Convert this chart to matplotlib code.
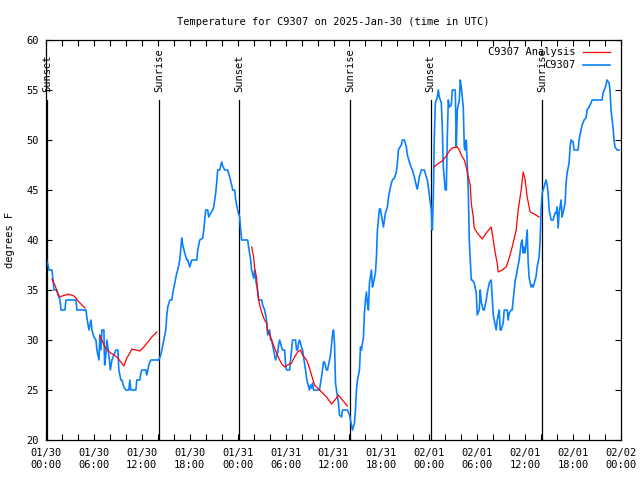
import datetime as dt
import matplotlib
matplotlib.use('Agg')
import matplotlib.pyplot as plt
import matplotlib.dates as mdates
import numpy as np

# hours since 2025-01-30 00:00 UTC
obs_hours = [0.06, 0.25, 0.375, 0.5, 0.75, 0.875, 1.0, 1.375, 1.5, 1.75, 1.875, 2.0, 2.375, 2.5,
             3.75, 3.875, 5.0, 5.125, 5.375, 5.625, 5.75, 6.0, 6.25, 6.375, 6.625, 6.75, 6.875,
             7.0, 7.25, 7.34, 7.5, 7.625, 7.875, 8.06, 8.25, 8.5, 8.75, 9.0, 9.125, 9.375, 9.5,
             9.75, 10.0, 10.375, 10.5, 10.625, 11.25, 11.375, 11.75, 11.875, 12.0, 12.5, 12.625,
             12.875, 13.125, 14.125, 14.375, 14.5, 14.75, 15.0, 15.125, 15.25, 15.5, 15.75,
             15.875, 16.125, 16.375, 16.5, 16.75, 17.0, 17.125, 17.375, 17.625, 17.75, 18.0,
             18.25, 18.875, 19.0, 19.25, 19.625, 19.75, 20.0, 20.25, 20.375, 20.625, 20.875,
             21.0, 21.25, 21.375, 21.5, 21.75, 22.0, 22.125, 22.375, 22.75, 23.0, 23.25, 23.375,
             23.625, 23.75, 24.0, 24.25, 24.375, 24.5, 25.25, 25.375, 25.625, 25.75, 26.0,
             26.125, 26.25, 26.5, 26.625, 27.0, 27.125, 27.375, 27.625, 27.75, 28.0, 28.125,
             28.25, 28.5, 28.625, 28.75, 29.0, 29.125, 29.25, 29.5, 29.625, 29.875, 30.0,
             30.125, 30.5, 30.75, 30.875, 31.25, 31.375, 31.5, 31.625, 31.75, 32.0, 32.125,
             32.25, 32.5, 32.625, 32.75, 33.0, 33.125, 33.25, 33.375, 33.5, 34.25, 34.375,
             34.5, 34.75, 34.875, 35.125, 35.25, 35.5, 35.625, 35.75, 35.875, 36.0, 36.125,
             36.25, 36.5, 36.625, 36.75, 37.0, 37.125, 37.75, 38.0, 38.25, 38.375, 38.625,
             38.75, 38.875, 39.0, 39.25, 39.375, 39.5, 39.75, 39.875, 40.0, 40.125, 40.25,
             40.375, 40.5, 40.75, 40.875, 41.0, 41.25, 41.375, 41.5, 41.75, 41.875, 42.0,
             42.25, 42.375, 42.5, 42.75, 42.875, 43.0, 43.25, 43.375, 43.625, 43.875, 44.0,
             44.125, 44.25, 44.5, 44.625, 44.875, 45.125, 45.25, 45.5, 45.75, 45.875, 46.125,
             46.375, 46.5, 46.75, 47.0, 47.375, 47.625, 47.75, 47.875, 48.0, 48.25, 48.375,
             48.5, 48.56, 48.625, 48.75, 49.0, 49.125, 49.25, 49.5, 49.625, 49.75, 50.0,
             50.125, 50.25, 50.375, 50.5, 50.75, 50.875, 51.25, 51.375, 51.5, 51.75, 51.875,
             52.0, 52.25, 52.375, 52.5, 52.625, 52.75, 52.875, 53.0, 53.25, 53.375, 53.625,
             53.875, 54.0, 54.25, 54.375, 54.5, 54.75, 54.875, 55.125, 55.25, 55.5, 55.75,
             55.875, 56.0, 56.25, 56.375, 56.5, 56.75, 56.875, 57.0, 57.25, 57.375, 57.75,
             57.875, 58.0, 58.25, 58.375, 58.5, 58.75, 58.875, 59.0, 59.25, 59.5, 59.625,
             59.75, 59.875, 60.0, 60.25, 60.375, 60.5, 60.75, 60.875, 61.0, 61.25, 61.375,
             61.5, 61.75, 61.875, 62.0, 62.125, 62.25, 62.5, 62.625, 62.75, 62.875, 63.0,
             63.25, 63.5, 63.75, 63.875, 64.0, 64.125, 64.25, 64.5, 64.625, 64.75, 65.0,
             65.125, 65.25, 65.5, 65.625, 65.75, 66.0, 66.125, 66.625, 66.75, 67.0, 67.125,
             67.375, 67.625, 67.75, 68.0, 68.25, 68.375, 69.625, 69.75, 70.0, 70.125, 70.25,
             70.5, 70.625, 70.75, 71.0, 71.125, 71.25, 71.5, 71.75]
obs_temp = [38.0, 37.5, 37.0, 37.0, 37.0, 36.0, 35.0, 35.0, 34.5, 34.0, 33.0, 33.0, 33.0, 34.0,
            34.0, 33.0, 33.0, 32.2, 31.0, 32.0, 31.0, 30.3, 30.0, 29.0, 28.0, 30.5, 29.0,
            31.0, 31.0, 27.5, 28.5, 30.0, 28.5, 27.0, 28.0, 28.5, 29.0, 29.0, 27.0, 26.0, 26.0,
            25.3, 25.0, 25.0, 26.0, 25.0, 25.0, 26.0, 26.0, 26.7, 27.0, 27.0, 26.5,
            27.5, 28.0, 28.0, 28.5, 29.0, 30.0, 31.0, 32.5, 33.3, 34.0, 34.0,
            34.7, 35.7, 36.7, 37.0, 38.0, 40.2, 39.5, 38.7, 38.0, 38.0, 37.3,
            38.0, 38.0, 39.0, 40.0, 40.2, 41.0, 43.0, 43.0, 42.3, 42.7, 43.0,
            43.3, 44.7, 45.7, 47.0, 47.0, 47.8, 47.4, 47.0, 47.0, 46.3, 45.5, 45.0,
            45.0, 44.0, 43.0, 42.3, 41.0, 40.0, 40.0, 39.3, 38.0, 37.0, 36.2,
            37.0, 36.0, 35.0, 34.0, 34.0, 33.5, 33.0, 32.0, 30.5, 31.0, 30.0,
            30.0, 29.0, 28.5, 28.0, 28.7, 29.5, 30.0, 29.3, 29.0, 29.0, 27.5,
            27.0, 27.0, 29.0, 30.0, 30.0, 29.0, 29.0, 29.7, 30.0, 29.3, 29.0,
            28.3, 27.0, 26.2, 25.7, 25.0, 25.5, 25.2, 25.7, 25.0, 25.0, 25.7,
            26.3, 27.8, 27.8, 27.0, 27.0, 28.0, 28.5, 29.5, 30.5, 31.0, 29.7,
            25.7, 24.3, 23.7, 22.5, 22.3, 23.0, 23.0, 22.5, 21.5, 21.0, 21.7,
            23.0, 25.0, 26.0, 27.0, 29.3, 29.0, 30.3, 32.7, 34.0, 34.8, 33.6,
            33.0, 35.7, 37.0, 35.3, 35.7, 36.7, 38.3, 41.0, 43.1, 43.1, 42.5,
            41.3, 42.0, 42.7, 43.3, 44.2, 44.8, 45.7, 46.0, 46.2, 46.8, 47.7,
            49.0, 49.2, 49.5, 50.0, 50.0, 49.3, 48.5, 47.8, 47.2, 47.0, 46.3,
            45.4, 45.1, 46.3, 47.0, 47.0, 46.3, 46.0, 45.3, 44.5, 43.0, 41.0,
            44.3, 47.3, 50.3, 53.7, 54.3, 55.0, 54.3, 53.7, 51.2, 47.3, 45.0,
            45.0, 50.3, 54.0, 53.3, 53.5, 55.0, 55.0, 49.3, 53.0, 54.0, 56.0,
            55.3, 53.3, 49.3, 49.0, 50.0, 47.5, 45.0, 40.0, 36.0, 36.0, 35.7,
            34.7, 32.5, 33.0, 35.0, 33.8, 33.0, 33.0, 34.0, 34.7, 35.7,
            36.0, 34.3, 32.5, 31.5, 31.0, 32.0, 33.0, 31.0, 31.0, 31.7, 33.0, 33.0,
            32.0, 32.7, 33.0, 33.0, 34.0, 36.0, 36.3, 37.0, 38.0, 39.7, 40.0,
            38.7, 39.3, 38.7, 41.0, 37.8, 36.2, 35.3, 35.5, 35.3, 36.0, 36.4,
            37.3, 38.3, 40.0, 43.0, 44.7, 45.0, 45.7, 46.0, 45.5, 44.7, 43.0,
            42.0, 42.0, 42.7, 42.7, 43.3, 41.2, 42.7, 44.0, 42.3, 42.7, 43.7,
            45.7, 46.7, 47.7, 49.3, 50.0, 49.8, 49.0, 49.0, 50.0, 51.0, 51.5,
            52.0, 52.2, 53.0, 53.3, 53.7, 54.0, 54.0, 54.7, 55.2, 55.5, 56.0,
            55.7, 55.0, 53.0, 51.3, 50.0, 49.3, 49.0, 49.0]

# analysis series, nan marks the gaps
ana_hours = [0.75, 1.0, 1.25, 1.375, 1.75, 2.0, 2.5, 2.75, 3.125, 3.5, 3.75, 4.125, 4.5, 4.875,
             5.8, 6.75, 7.0, 7.25, 7.625, 8.125, 8.5, 8.875, 9.375, 9.75, 10.125, 10.5, 10.75,
             11.25, 11.75, 12.25, 12.75, 13.25, 13.875,
             20.0, 25.75, 26.0, 26.125, 26.375, 26.5, 26.75, 27.0, 27.125, 27.375, 27.625,
             27.75, 28.125, 28.375, 28.875, 29.25, 29.625, 29.875, 30.25, 30.75, 31.125, 31.5,
             31.875, 32.125, 32.625, 32.875, 33.25, 33.625, 34.0, 34.5, 35.125, 35.75, 36.375,
             36.625, 37.0, 37.75,
             43.0, 48.625, 49.0, 49.625, 50.125, 50.5, 50.875, 51.5, 51.75, 52.0, 52.375,
             52.625, 52.875, 53.125, 53.25, 53.5, 53.625, 54.0, 54.625, 55.125, 55.75, 56.0,
             56.25, 56.5, 56.625, 57.125, 57.625, 58.0, 58.375, 58.875, 59.125, 59.5, 59.75,
             60.0, 60.25, 60.625, 61.125, 61.75]
ana_temp = [36.1, 35.7, 35.2, 34.8, 34.3, 34.4, 34.5, 34.6, 34.5, 34.4, 34.2, 33.8, 33.5, 33.2,
            np.nan, 30.4, 30.0, 29.5, 29.0, 28.7, 28.5, 28.3, 27.8, 27.4, 28.2, 28.7, 29.1,
            29.0, 28.9, 29.3, 29.8, 30.3, 30.8,
            np.nan, 39.3, 38.3, 37.2, 36.2, 34.7, 33.5, 32.8, 32.5, 32.0, 31.7,
            31.0, 30.3, 29.7, 28.7, 28.0, 27.5, 27.3, 27.5, 27.7, 28.3, 28.8,
            29.0, 28.5, 28.0, 27.5, 26.5, 25.5, 25.2, 24.8, 24.3, 23.6, 24.2,
            24.5, 24.1, 23.4,
            np.nan, 47.3, 47.6, 47.9, 48.4, 48.9, 49.2, 49.3, 49.0, 48.5, 48.0,
            47.3, 46.3, 45.5, 43.7, 42.3, 41.2, 40.7, 40.1, 40.7, 41.3, 40.0,
            38.7, 37.7, 36.8, 37.0, 37.3, 38.2, 39.3, 41.0, 43.0, 45.0, 46.8,
            46.0, 44.3, 42.8, 42.6, 42.3]

sun_hours = [0.13, 14.2, 24.15, 38.1, 48.15, 62.15]
sun_labels = ['Sunset', 'Sunrise', 'Sunset', 'Sunrise', 'Sunset', 'Sunrise']

start = dt.datetime(2025, 1, 30)


def to_time(hours):
    return [start + dt.timedelta(hours=h) for h in hours]


plt.rcParams['font.family'] = 'DejaVu Sans Mono'
plt.rcParams['font.size'] = 7.5

fig = plt.figure(figsize=(6.4, 4.8), dpi=100)
ax = fig.add_axes([46 / 640, 40 / 480, 575 / 640, 400 / 480])

for h, lab in zip(sun_hours, sun_labels):
    t = start + dt.timedelta(hours=h)
    ax.plot([t, t], [20, 54], color='black', lw=0.9, zorder=1)
    ax.text(t, 54.8, lab, rotation=90, ha='center', va='bottom', fontsize=7.5)

ax.plot(to_time(ana_hours), ana_temp, color='#ff0000', lw=0.9, label='C9307 Analysis', zorder=3)
ax.plot(to_time(obs_hours), obs_temp, color='#0a80ff', lw=1.2, label='C9307', zorder=2)

ax.set_xlim(start, start + dt.timedelta(hours=72))
ax.set_ylim(20, 60)
ax.set_yticks(range(20, 61, 5))
ax.xaxis.set_major_locator(mdates.HourLocator(byhour=range(0, 24, 6)))
ax.xaxis.set_minor_locator(mdates.HourLocator(byhour=range(0, 24, 2)))
ax.xaxis.set_major_formatter(mdates.DateFormatter('%m/%d\n%H:%M'))
ax.tick_params(which='both', direction='in', top=True, right=True, length=4, width=0.8)
ax.tick_params(axis='x', pad=6)
ax.tick_params(axis='y', pad=5)
for s in ax.spines.values():
    s.set_linewidth(0.9)

ax.set_ylabel('degrees F', labelpad=8)
ax.set_title('Temperature for C9307 on 2025-Jan-30 (time in UTC)', fontsize=7.5, pad=11)

leg = ax.legend(loc='upper right', bbox_to_anchor=(1 - 4 / 575, 1), frameon=False,
                markerfirst=False, handlelength=2.6, handletextpad=0.7, labelspacing=0.3,
                borderaxespad=0.3, fontsize=7.5)

fig.savefig('out.png', dpi=100)
